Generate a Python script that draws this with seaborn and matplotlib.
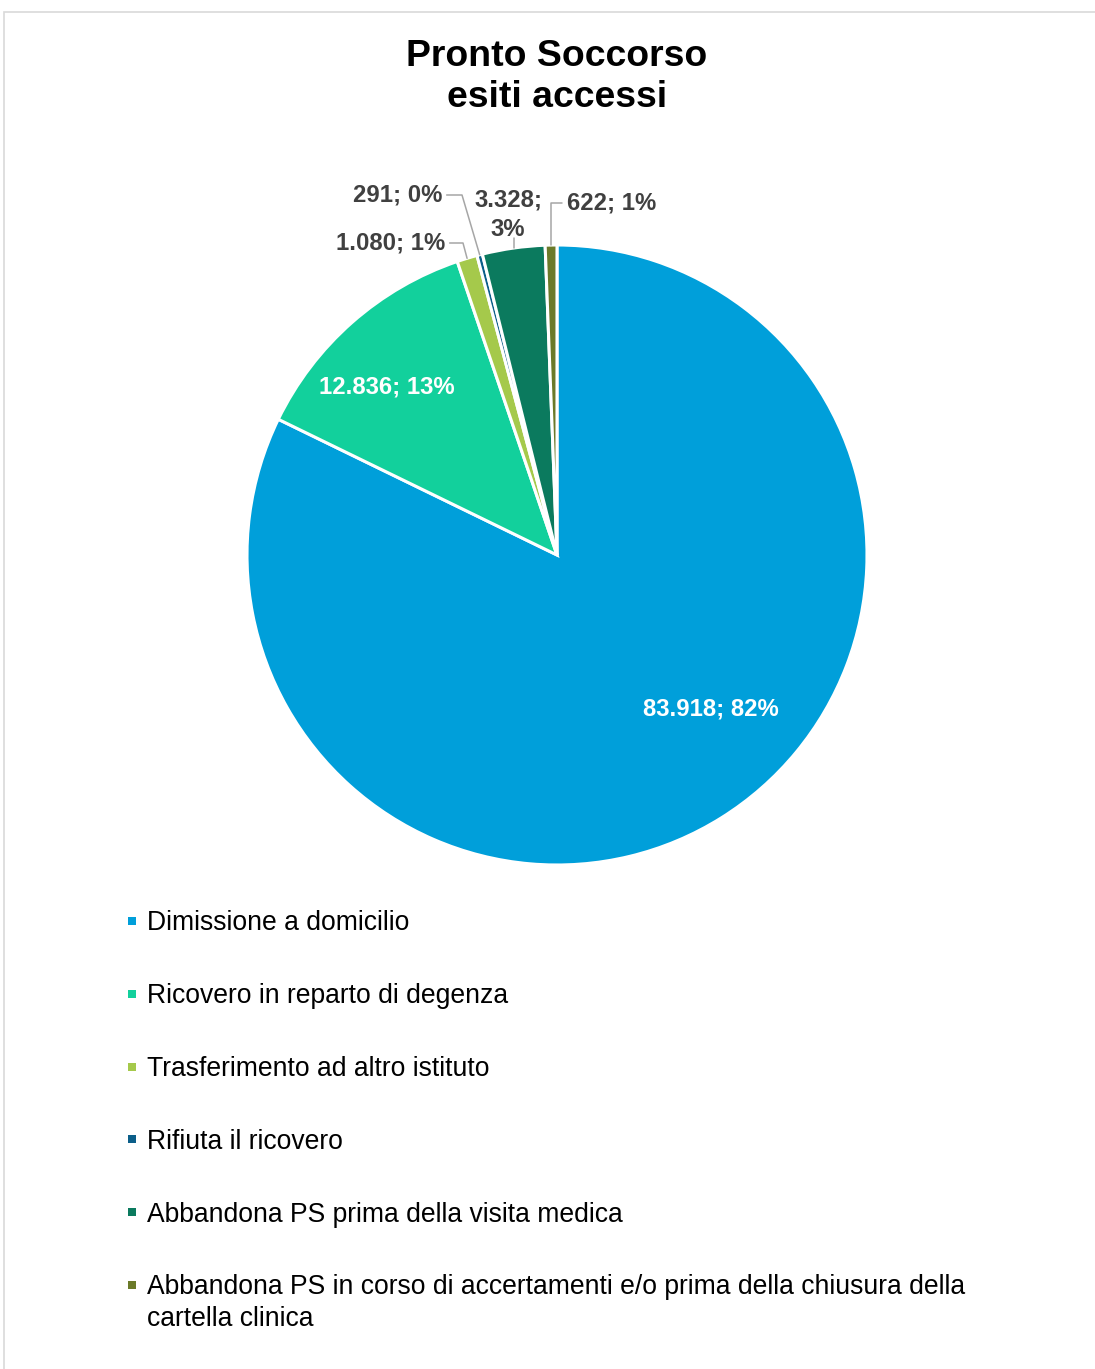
import numpy as np
import matplotlib
matplotlib.use("Agg")
import matplotlib.pyplot as plt
from matplotlib.patches import Rectangle
import seaborn as sns

# Esiti degli accessi al Pronto Soccorso
categories = [
    "Dimissione a domicilio",
    "Ricovero in reparto di degenza",
    "Trasferimento ad altro istituto",
    "Rifiuta il ricovero",
    "Abbandona PS prima della visita medica",
    "Abbandona PS in corso di accertamenti e/o prima della chiusura della\ncartella clinica",
]
values = [83918, 12836, 1080, 291, 3328, 622]
value_labels = ["83.918", "12.836", "1.080", "291", "3.328", "622"]
slice_colors = ["#009FDA", "#12D09C", "#A5C94B", "#0B5E89", "#0B7A5E", "#6B7A29"]

sns.set_theme(style="white")
plt.rcParams["font.family"] = ["Liberation Sans", "DejaVu Sans"]
palette = sns.color_palette(slice_colors)

W, H = 1095, 1369
fig = plt.figure(figsize=(W / 100, H / 100), dpi=100)

# outer chart frame
fig.patches.append(Rectangle((4 / W, -0.05), 1.2, 1 - 12 / H + 0.05,
                             transform=fig.transFigure, fill=False,
                             edgecolor="#D9D9D9", linewidth=1.2))

fig.text(557 / W, 1 - 77 / H, "Pronto Soccorso\nesiti accessi", ha="center",
         va="center", fontsize=26.9, fontweight="bold", color="#000000",
         linespacing=1.22)

# pie area: centre (557, 555) px, radius 310 px
cx, cy, R = 557, 555, 310
ax = fig.add_axes([(cx - R) / W, (H - cy - R) / H, 2 * R / W, 2 * R / H])
wedges, _ = ax.pie(values, colors=palette, startangle=90, counterclock=False,
                   radius=1.0, wedgeprops=dict(edgecolor="white", linewidth=2.2))
ax.set_xlim(-1, 1)
ax.set_ylim(-1, 1)
ax.set_aspect("equal")
ax.axis("off")

total = float(sum(values))
pct = [f"{round(v / total * 100):d}%" for v in values]

def to_data(px, py):
    return (px - cx) / R, (cy - py) / R

def mid_point(w, r=1.0):
    a = np.deg2rad((w.theta1 + w.theta2) / 2)
    return r * np.cos(a), r * np.sin(a)

lbl_kw = dict(fontsize=17.2, fontweight="bold", clip_on=False)
line_kw = dict(color="#A6A6A6", linewidth=1.1, clip_on=False)
dark = "#404040"

# labels inside the two large slices
x, y = to_data(711, 709)
ax.text(x, y, f"{value_labels[0]}; {pct[0]}", ha="center", va="center", color="white", **lbl_kw)
x, y = to_data(387, 387)
ax.text(x, y, f"{value_labels[1]}; {pct[1]}", ha="center", va="center", color="white", **lbl_kw)

# Trasferimento
mx, my = mid_point(wedges[2])
tx, ty = to_data(445, 243)
ex, _ = to_data(463, 243)
ax.plot([tx + 0.015, ex, mx], [ty, ty, my], **line_kw)
ax.text(tx, ty, f"{value_labels[2]}; {pct[2]}", ha="right", va="center", color=dark, **lbl_kw)

# Rifiuta
mx, my = mid_point(wedges[3])
tx, ty = to_data(442, 195)
ex, _ = to_data(462, 195)
ax.plot([tx + 0.015, ex, mx], [ty, ty, my], **line_kw)
ax.text(tx, ty, f"{value_labels[3]}; {pct[3]}", ha="right", va="center", color=dark, **lbl_kw)

# Abbandona prima della visita
mx, my = mid_point(wedges[4])
tx, ty = to_data(508, 215)
_, ey = to_data(0, 238)
ax.plot([mx, mx], [my, ey], **line_kw)
ax.text(tx, ty, f"{value_labels[4]};\n{pct[4]}", ha="center", va="center", color=dark,
        linespacing=1.35, **lbl_kw)

# Abbandona in corso di accertamenti
mx, my = mid_point(wedges[5])
tx, ty = to_data(567, 203)
ex, _ = to_data(562, 203)
ax.plot([mx, mx, ex], [my, ty, ty], **line_kw)
ax.text(tx, ty, f"{value_labels[5]}; {pct[5]}", ha="left", va="center", color=dark, **lbl_kw)

# legend
row0, step = 921, 72.8
for i, (name, col) in enumerate(zip(categories, palette)):
    yc = row0 + step * i
    lines = name.count("\n") + 1
    fig.patches.append(Rectangle((128 / W, 1 - (yc + 4) / H), 8 / W, 8 / H,
                                 transform=fig.transFigure, facecolor=col,
                                 edgecolor="none"))
    ytxt = yc + 2.5 + (lines - 1) * 31 / 2
    fig.text(147 / W, 1 - ytxt / H, name, ha="left", va="center", fontsize=19.1,
             color="#000000", linespacing=1.3)

fig.savefig("out.png", dpi=100, facecolor="white")
